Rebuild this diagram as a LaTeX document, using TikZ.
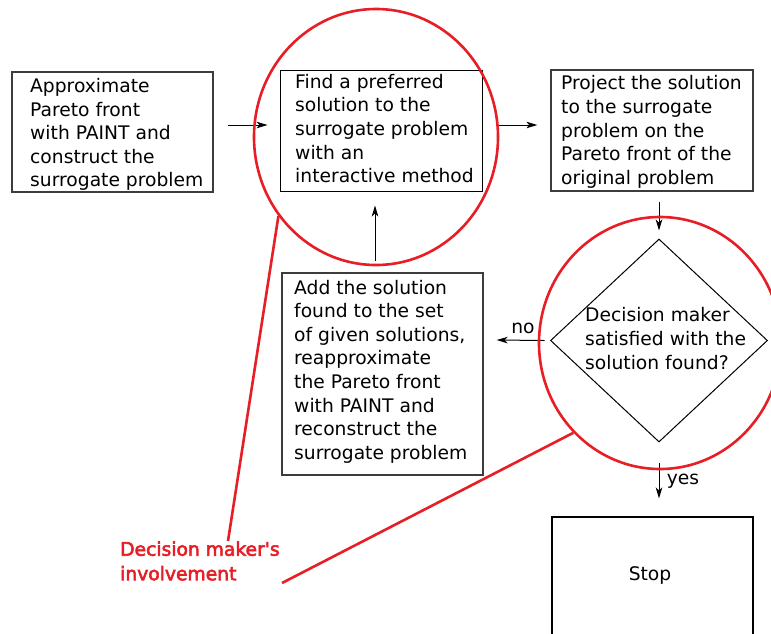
\documentclass[tikz,border=0pt]{standalone}
\usepackage{fontspec}
\setmainfont{DejaVu Sans}
\newfontfamily\dmfont{DejaVu Sans}[FakeBold=3]
\usetikzlibrary{shapes.geometric,arrows.meta}
\definecolor{dmred}{RGB}{232,30,38}
\definecolor{boxgray}{RGB}{60,60,60}
\tikzset{
  box/.style={draw=boxgray, line width=1.3pt, rectangle, inner sep=0pt},
  txt/.style={inner sep=0pt, align=left, anchor=west, font=\fontsize{18.7}{23.6}\selectfont},
  arr/.style={line width=1pt, -{Stealth[length=11pt,width=6.5pt,inset=3pt]}},
  ring/.style={draw=dmred, line width=2.6pt, ellipse, inner sep=0pt},
  redline/.style={draw=dmred, line width=2.6pt},
}
\begin{document}
\begin{tikzpicture}[x=1pt, y=-1pt]
\clip (0,0) rectangle (771,633);
\fill[white] (0,0) rectangle (771,633);

% process boxes
\node[box, minimum width=201pt, minimum height=120pt] (a) at (112.5,132) {};
\node[txt] (ta) at (30,134.5) {Approximate\\Pareto front\\with PAINT and\\construct the\\surrogate problem};

\node[box, draw=black, line width=0.9pt, minimum width=202pt, minimum height=121pt] (b) at (381,130.5) {};
\node[txt] (tb) at (295,128.5) {Find a preferred\\solution to the\\surrogate problem\\with an\\interactive method};

\node[box, minimum width=202pt, minimum height=121pt] (c) at (652,130.5) {};
\node[txt] (tc) at (561,132) {Project the solution\\to the surrogate\\problem on the\\Pareto front of the\\original problem};

\node[box, minimum width=201pt, minimum height=202pt] (d) at (382.5,374) {};
\node[txt] (td) at (294,371.5) {Add the solution\\found to the set\\of given solutions,\\reapproximate\\the Pareto front\\with PAINT and\\reconstruct the\\surrogate problem};

% decision
\node[draw=black, line width=1pt, diamond, inner sep=0pt, minimum width=217pt, minimum height=203pt] (dia) at (659,340.5) {};
\node[txt] (tdia) at (585,338.5) {Decision maker\\satisfied with the\\solution found?};

% end
\node[draw=black, line width=1.1pt, rectangle, inner sep=0pt, minimum width=201pt, minimum height=143pt] (stop) at (652.5,588.5) {};
\node[inner sep=0pt, font=\fontsize{18.7}{23.6}\selectfont] (tstop) at (650,575) {Stop};

% flow
\draw[arr] ([xshift=14pt,yshift=7pt]a.east) -- ([xshift=-12pt,yshift=5.5pt]b.west);
\draw[arr] ([xshift=16pt,yshift=5.5pt]b.east) -- ([xshift=-13pt,yshift=5.5pt]c.west);
\draw[arr] ([xshift=-7.5pt,yshift=11pt]d.north) -- ([xshift=-6pt,yshift=-14pt]b.south);
\draw[arr] ([xshift=7pt,yshift=-10pt]c.south) -- ([yshift=8pt]dia.north);
\draw[arr] ([xshift=-5.5pt]dia.west) -- ([xshift=13pt,yshift=34pt]d.east);
\draw[arr] ([yshift=-20pt]dia.south) -- ([xshift=6.5pt,yshift=18pt]stop.north);
\node[inner sep=0pt, font=\fontsize{18.7}{23.6}\selectfont] (no) at (523,328) {no};
\node[inner sep=0pt, font=\fontsize{18.7}{23.6}\selectfont] (yes) at (683,481) {yes};

% decision maker's involvement
\node[ring, minimum width=244pt, minimum height=256pt] (e1) at (376,137) {};
\node[ring, minimum width=242pt, minimum height=252pt] (e2) at (660,343) {};
\node[txt, text=dmred, font=\dmfont\fontsize{18.7}{24.5}\selectfont] (lab) at (120,561) {Decision maker\textquotesingle s\\involvement};
\coordinate (l1) at (228,541);
\coordinate (l2) at (282,583);
\draw[redline] (e1.219.4) -- (l1);
\draw[redline] (e2.226.6) -- (l2);
\end{tikzpicture}
\end{document}
